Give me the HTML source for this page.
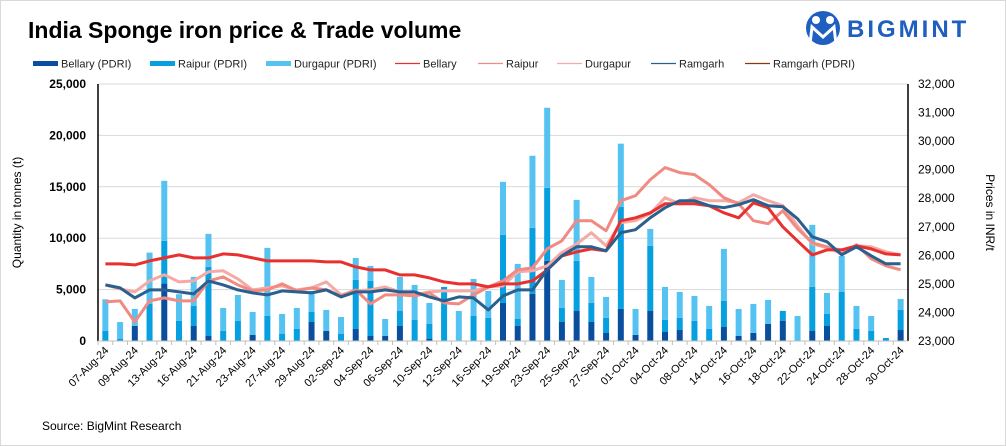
<!DOCTYPE html>
<html><head><meta charset="utf-8"><style>
body{margin:0;background:#fff;}
#wrap{position:relative;width:1006px;height:446px;overflow:hidden;font-family:"Liberation Sans",sans-serif;}
</style></head><body>
<div id="wrap">
<svg id="svg" width="1006" height="446" xmlns="http://www.w3.org/2000/svg" font-family="Liberation Sans, sans-serif">
<rect x="0.5" y="0.5" width="1005" height="445" fill="#fff" stroke="#d9d9d9"/>
<text x="28" y="38" font-size="23" font-weight="bold" fill="#000">India Sponge iron price &amp; Trade volume</text>
<g>
<circle cx="823" cy="28" r="17" fill="#1f5fbf"/>
<circle cx="816" cy="20" r="4" fill="#fff"/><circle cx="830" cy="20" r="4" fill="#fff"/>
<path d="M810 44 L812 27 L823 37 L834 27 L836 44" fill="none" stroke="#fff" stroke-width="3"/>
<text x="847" y="37" font-size="24" font-weight="bold" fill="#1f5fbf" letter-spacing="3">BIGMINT</text>
</g>
<g id="legend" font-size="11" fill="#222"></g>
<g id="chart"></g>
<text x="42" y="430" font-size="12" fill="#000">Source: BigMint  Research</text>
</svg>
</div>
<script>
const categories=["07-Aug","08-Aug","09-Aug","12-Aug","13-Aug","14-Aug","16-Aug","20-Aug","21-Aug","22-Aug","23-Aug","26-Aug","27-Aug","28-Aug","29-Aug","30-Aug","02-Sep","03-Sep","04-Sep","05-Sep","06-Sep","09-Sep","10-Sep","11-Sep","12-Sep","13-Sep","16-Sep","18-Sep","19-Sep","20-Sep","23-Sep","24-Sep","25-Sep","26-Sep","27-Sep","30-Sep","01-Oct","03-Oct","04-Oct","07-Oct","08-Oct","10-Oct","14-Oct","15-Oct","16-Oct","17-Oct","18-Oct","21-Oct","22-Oct","23-Oct","24-Oct","25-Oct","28-Oct","29-Oct","30-Oct"];
const bellaryVol=[0,0,1461,0,5585,0,1460,487,0,0,584,0,0,0,1850,974,0,1170,487,487,1460,0,195,0,0,0,0,3700,1460,4580,7790,1850,2920,1850,780,3120,585,2920,877,1070,0,0,1365,487,780,1655,1950,0,974,1460,0,0,0,0,1070];
const raipurVol=[974,227,0,3600,4150,1950,1950,6720,974,1950,0,2435,680,1170,975,0,680,4770,5355,0,1460,2045,1460,5260,0,2435,2240,6620,680,6430,7110,1365,4870,1850,1460,9935,0,6330,1170,1170,1950,1170,2530,0,0,0,975,0,4285,1170,4770,1170,974,290,1950];
const durgapurVol=[3085,1620,1656,5000,5845,2600,2825,3215,2240,2530,2240,6624,1950,2045,2045,2045,1655,2140,1460,1655,3310,3410,2045,0,2920,3600,2630,5160,5360,7010,7790,2730,5940,2530,2045,6140,2530,1655,3215,2530,2435,2240,5065,2630,2825,2340,0,2435,6040,2045,3500,2240,1460,0,1070];
const bellaryPrice=[25700,25700,25665,25806,25911,26016,25911,25911,26051,26016,25911,25806,25806,25806,25806,25771,25771,25595,25490,25490,25315,25315,25209,25069,25000,25000,24894,25000,25000,25104,25490,25981,26121,26226,26156,27208,27314,27489,27805,27805,27805,27734,27489,27314,27840,27664,26998,26507,26016,26191,26191,26332,26226,26051,26016];
const raipurPrice=[24369,24404,23667,24404,24509,24404,24404,25106,25246,24966,24755,24790,25001,24755,24860,24790,24580,24790,24299,24615,24615,24580,24685,24334,24299,24615,24895,25106,25492,25562,26229,26510,27212,27212,26861,27914,28090,28651,29072,28897,28827,28476,28019,27809,27212,27107,27563,26931,26440,26299,26054,26370,25878,25633,25492];
const durgapurPrice=[24966,24825,24720,25106,25317,25071,25106,25422,25457,25176,24790,24860,24931,24790,24860,25071,24615,24755,24790,24895,24720,24615,24720,24755,24755,24755,24895,24931,25422,25457,25633,26101,26393,26791,26335,27142,27212,27458,28019,27809,28019,27914,27914,27844,28125,27914,27739,27037,26405,26264,26194,26335,26299,26124,26019];
const ramgarhPrice=[24966,24860,24509,24790,24790,24720,24650,25106,24966,24790,24685,24615,24755,24720,24685,24790,24544,24720,24720,24790,24720,24720,24544,24404,24544,24509,24088,24580,24790,24790,25492,25984,26299,26299,26159,26791,26896,27317,27668,27914,27914,27739,27668,27774,27949,27739,27703,27282,26650,26475,26019,26299,25984,25703,25703];
const leftTicks=[0,5000,10000,15000,20000,25000];
const rightTicks=[23000,24000,25000,26000,27000,28000,29000,30000,31000,32000];

const NS="http://www.w3.org/2000/svg";
const L=98,R=908,T=84,B=341;
const bw=(R-L)/categories.length;
const xc=i=>L+bw*(i+0.5);
const yL=v=>B-(v-0)/(25000)*(B-T);
const yR=v=>B-(v-23000)/(9000)*(B-T);
function mk(tag,attrs,parent){const e=document.createElementNS(NS,tag);for(const k in attrs)e.setAttribute(k,attrs[k]);parent.appendChild(e);return e;}
const g=document.getElementById('chart');
const fmt=v=>v.toLocaleString('en-US');
// grid + left ticks
leftTicks.forEach(v=>{
  const y=yL(v);
  if(v>0){const gl=mk('line',{x1:L,x2:R,y1:y,y2:y,stroke:'#d9d9d9','stroke-width':1},g);
  
  }
  const t=mk('text',{x:L-12,y:y+4,'text-anchor':'end','font-size':12,'font-weight':'bold',fill:'#000'},g);
  t.textContent=fmt(v);
  
  
});
rightTicks.forEach(v=>{
  const y=yR(v);
  const t=mk('text',{x:R+10,y:y+4,'text-anchor':'start','font-size':12,fill:'#000'},g);
  t.textContent=fmt(v);
  
  
});
// bars
const segs=[[bellaryVol,'#0a4f9e','bar-bellary'],[raipurVol,'#069fdf','bar-raipur'],[durgapurVol,'#55c3f1','bar-durgapur']];
categories.forEach((c,i)=>{
  let base=0;
  segs.forEach(([arr,col,nm])=>{
    const v=arr[i];if(v<=0)return;
    const r=mk('rect',{x:xc(i)-3,y:yL(base+v),width:6,height:yL(base)-yL(base+v),fill:col},g);
    
    
    base+=v;
  });
});
// lines
const lines=[[durgapurPrice,'#f5aaa5','line-durgapur'],[raipurPrice,'#f08a82','line-raipur'],[bellaryPrice,'#e8302f','line-bellary'],[ramgarhPrice,'#2a5f8e','line-ramgarh']];
lines.forEach(([arr,col,nm])=>{
  const d=arr.map((v,i)=>(i?'L':'M')+xc(i).toFixed(1)+' '+yR(v).toFixed(1)).join(' ');
  const p=mk('path',{d:d,fill:'none',stroke:col,'stroke-width':3,'stroke-linejoin':'round'},g);
  
  
});
// axes
const ax1=mk('line',{x1:L,x2:L,y1:T,y2:B,stroke:'#000','stroke-width':1.5},g);


const ax2=mk('line',{x1:R,x2:R,y1:T,y2:B,stroke:'#000','stroke-width':1.5},g);


const ax3=mk('line',{x1:L,x2:R,y1:B,y2:B,stroke:'#bfbfbf','stroke-width':1},g);


categories.forEach((c,i)=>{
  const tk=mk('line',{x1:L+bw*i,x2:L+bw*i,y1:B,y2:B+4,stroke:'#bfbfbf'},g);
  
  
  if(i%2===0){
    const x=xc(i)+4,y=B+10;
    const t=mk('text',{x:x,y:y,'text-anchor':'end','font-size':11,fill:'#000',transform:`rotate(-45 ${x} ${y})`},g);
    t.textContent=c+'-24';
    
    
  }
});
const yt=mk('text',{x:0,y:0,'text-anchor':'middle','font-size':12,fill:'#000',transform:`translate(21 ${(T+B)/2}) rotate(-90)`},g);
yt.textContent='Quantity in tonnes (t)';


const yt2=mk('text',{x:0,y:0,'text-anchor':'middle','font-size':12,fill:'#000',transform:`translate(986 ${(T+B)/2}) rotate(90)`},g);
yt2.textContent='Prices in INR/t';


// legend
const lg=document.getElementById('legend');
const items=[['Bellary (PDRI)','#0a4f9e',33,'bar'],['Raipur (PDRI)','#069fdf',150,'bar'],['Durgapur (PDRI)','#55c3f1',266,'bar'],['Bellary','#e8302f',395,'line'],['Raipur','#f08a82',478,'line'],['Durgapur','#f5aaa5',557,'line'],['Ramgarh','#2a5f8e',651,'line'],['Ramgarh (PDRI)','#8b3a0e',745,'line']];
items.forEach(([n,c,x,t])=>{
  const it=mk('g',{},lg);
  
  
  if(t==='bar')mk('rect',{x:x,y:61,width:25,height:5,fill:c},it);
  else mk('line',{x1:x,x2:x+25,y1:63.5,y2:63.5,stroke:c,'stroke-width':1.3},it);
  const tx=mk('text',{x:x+28,y:67.5,'font-size':11,fill:'#222'},it);
  tx.textContent=n;
});
</script>
</body></html>
